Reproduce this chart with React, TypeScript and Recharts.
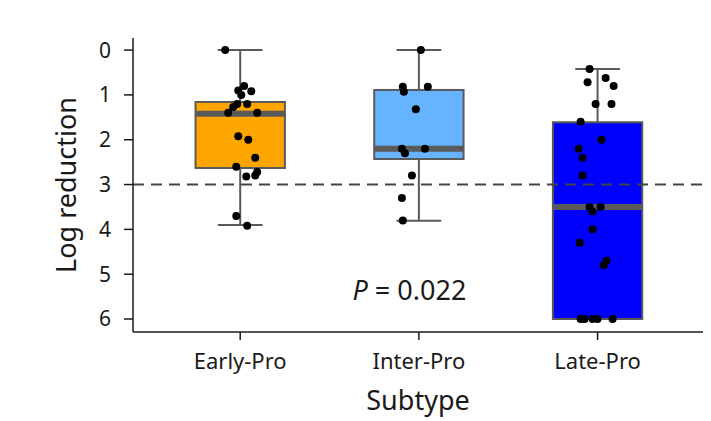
import React from 'react';
import {
  ComposedChart,
  XAxis,
  YAxis,
  Scatter,
  ReferenceArea,
  ReferenceLine,
  ReferenceDot,
} from 'recharts';

const categories = ['Early-Pro', 'Inter-Pro', 'Late-Pro'];
const boxQ1 = [1.16, 0.89, 1.61];
const boxMedian = [1.42, 2.2, 3.5];
const boxQ3 = [2.63, 2.43, 6.0];
const whiskerLow = [0, 0, 0.42];
const whiskerHigh = [3.9, 3.81, 6.0];
const boxColors = ['#FFA500', '#66B3FF', '#0000FF'];
const yTicks = [0, 1, 2, 3, 4, 5, 6];
const threshold = 3;
const pValueText = '0.022';

const earlyValues = [0.0, 0.8, 0.9, 0.92, 1.0, 1.2, 1.2, 1.27, 1.4, 1.4, 1.92, 2.0, 2.4, 2.6, 2.72, 2.8, 2.82, 3.7, 3.92];
const earlyJitter = [-0.084, 0.022, -0.011, 0.062, 0.006, -0.017, 0.039, -0.039, -0.067, 0.095, -0.011, 0.045, 0.084, -0.022, 0.095, 0.084, 0.034, -0.022, 0.039];

const interValues = [0.0, 0.82, 0.82, 0.93, 1.32, 2.2, 2.2, 2.3, 2.8, 3.3, 3.8];
const interJitter = [0.011, -0.09, 0.05, -0.084, -0.017, -0.095, 0.034, -0.078, -0.039, -0.095, -0.09];

const lateValues = [0.42, 0.72, 0.62, 0.8, 1.2, 1.2, 1.6, 2.0, 2.2, 2.4, 2.8, 3.5, 3.5, 3.6, 4.0, 4.3, 4.7, 4.8, 6.0, 6.0, 6.0, 6.0, 6.0];
const lateJitter = [-0.045, -0.056, 0.045, 0.09, -0.011, 0.078, -0.095, 0.022, -0.106, -0.084, -0.084, -0.045, 0.017, -0.028, -0.028, -0.1, 0.05, 0.034, -0.095, -0.073, -0.028, 0, 0.084];

const groups = [
  { values: earlyValues, jitter: earlyJitter },
  { values: interValues, jitter: interJitter },
  { values: lateValues, jitter: lateJitter },
];

const points = groups.flatMap((g, gi) =>
  g.values.map((v, i) => ({ x: gi + 1 + g.jitter[i], y: v }))
);

const BOX_HALF = 0.25;
const CAP_HALF = 0.125;
const FONT = '"Noto Sans", "Open Sans", sans-serif';
const AXIS_COLOR = '#1a1a1a';
const GRAY = '#5a5a5a';

const Dot = (props: any) => {
  const { cx, cy } = props;
  if (cx == null || cy == null) return null;
  return <circle cx={cx} cy={cy} r={4} fill="#000" />;
};

const PLabel = (props: any) => {
  const vb = props.viewBox || {};
  const x = vb.x ?? 0;
  const y = vb.y ?? 0;
  return (
    <text
      x={x}
      y={y}
      textAnchor="middle"
      dominantBaseline="central"
      fontFamily={FONT}
      fontSize={27}
      fill="#1a1a1a"
    >
      <tspan fontStyle="italic">P</tspan>
      <tspan> = {pValueText}</tspan>
    </text>
  );
};

export default function App() {
  return (
    <div style={{ position: 'absolute', left: 0, top: 0, width: 711, height: 421, background: '#fff' }}>
      <ComposedChart
        width={711}
        height={421}
        margin={{ top: 38, right: 8, bottom: 0, left: 0 }}
      >
        <XAxis
          type="number"
          dataKey="x"
          domain={[0.4, 3.59]}
          ticks={[1, 2, 3]}
          tickFormatter={(v: number) => categories[Math.round(v) - 1] ?? ''}
          allowDataOverflow
          height={89}
          tickSize={8}
          tickMargin={13}
          stroke={AXIS_COLOR}
          strokeWidth={1.5}
          tick={{ fontFamily: FONT, fontSize: 22, fill: '#1a1a1a' }}
          label={{
            value: 'Subtype',
            position: 'insideBottom',
            offset: 11,
            style: { fontFamily: FONT, fontSize: 27, fill: '#1a1a1a' },
          }}
        />
        <YAxis
          type="number"
          dataKey="y"
          reversed
          domain={[-0.27, 6.29]}
          ticks={yTicks}
          allowDataOverflow
          width={133}
          tickSize={9}
          tickMargin={13}
          stroke={AXIS_COLOR}
          strokeWidth={1.5}
          tick={{ fontFamily: FONT, fontSize: 21, fill: '#1a1a1a' }}
          label={{
            value: 'Log reduction',
            angle: -90,
            position: 'center',
            dx: 0,
            style: { fontFamily: FONT, fontSize: 27, fill: '#1a1a1a', textAnchor: 'middle' },
          }}
        />
        {categories.map((c, i) => (
          <ReferenceLine
            key={'wl' + c}
            segment={[{ x: i + 1, y: whiskerLow[i] }, { x: i + 1, y: boxQ1[i] }]}
            stroke={GRAY}
            strokeWidth={2}
            ifOverflow="visible"
          />
        ))}
        {categories.map((c, i) => (
          <ReferenceLine
            key={'wh' + c}
            segment={[{ x: i + 1, y: boxQ3[i] }, { x: i + 1, y: whiskerHigh[i] }]}
            stroke={GRAY}
            strokeWidth={2}
            ifOverflow="visible"
          />
        ))}
        {categories.map((c, i) => (
          <ReferenceLine
            key={'cl' + c}
            segment={[{ x: i + 1 - CAP_HALF, y: whiskerLow[i] }, { x: i + 1 + CAP_HALF, y: whiskerLow[i] }]}
            stroke={GRAY}
            strokeWidth={2}
            ifOverflow="visible"
          />
        ))}
        {categories.map((c, i) =>
          whiskerHigh[i] > boxQ3[i] ? (
            <ReferenceLine
              key={'ch' + c}
              segment={[{ x: i + 1 - CAP_HALF, y: whiskerHigh[i] }, { x: i + 1 + CAP_HALF, y: whiskerHigh[i] }]}
              stroke={GRAY}
              strokeWidth={2}
              ifOverflow="visible"
            />
          ) : null
        )}
        {categories.map((c, i) => (
          <ReferenceArea
            key={'box' + c}
            x1={i + 1 - BOX_HALF}
            x2={i + 1 + BOX_HALF}
            y1={boxQ1[i]}
            y2={boxQ3[i]}
            fill={boxColors[i]}
            fillOpacity={1}
            stroke={GRAY}
            strokeWidth={2}
            ifOverflow="visible"
          />
        ))}
        {categories.map((c, i) => (
          <ReferenceLine
            key={'med' + c}
            segment={[{ x: i + 1 - BOX_HALF, y: boxMedian[i] }, { x: i + 1 + BOX_HALF, y: boxMedian[i] }]}
            stroke={GRAY}
            strokeWidth={6}
            ifOverflow="visible"
          />
        ))}
        <ReferenceLine
          y={threshold}
          stroke="#444"
          strokeWidth={2}
          strokeDasharray="11 7"
        />
        <ReferenceDot
          x={1.947}
          y={5.33}
          r={0}
          fill="none"
          stroke="none"
          label={<PLabel />}
        />
        <Scatter
          data={points}
          dataKey="y"
          shape={<Dot />}
          isAnimationActive={false}
        />
      </ComposedChart>
    </div>
  );
}
